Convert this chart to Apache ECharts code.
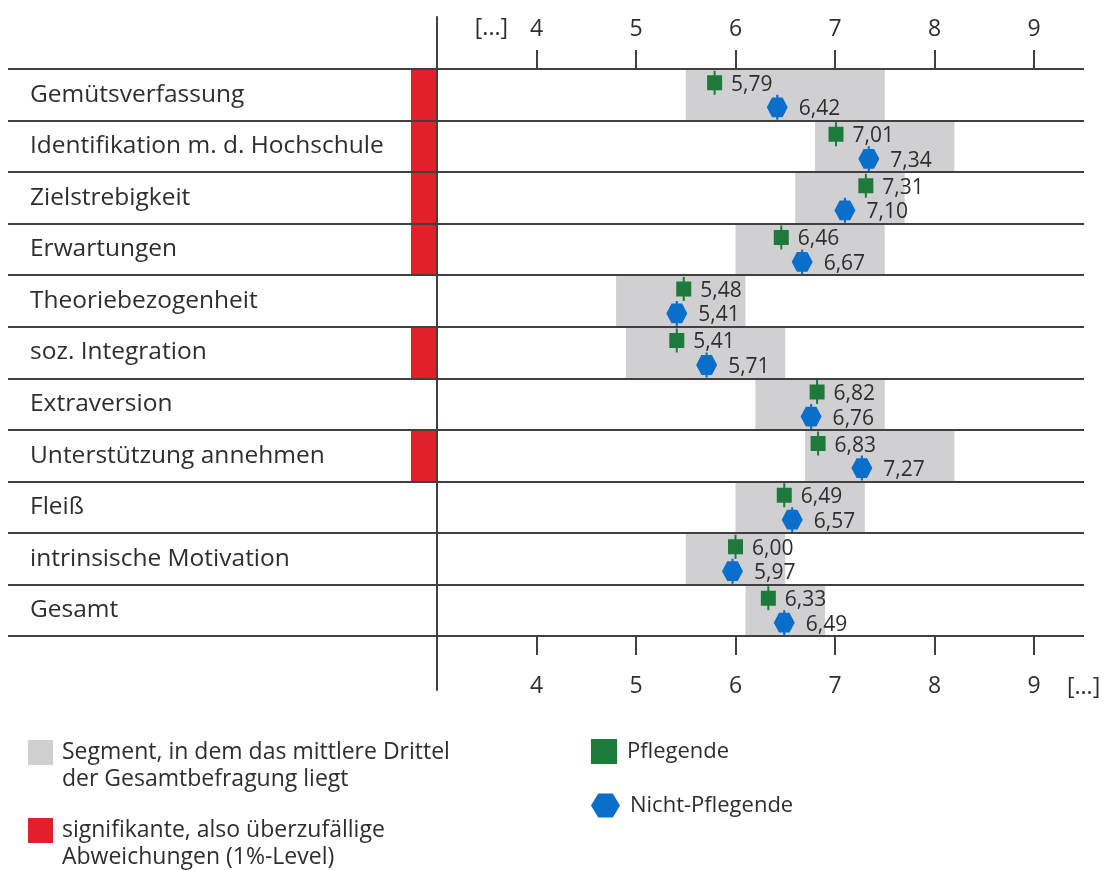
<!DOCTYPE html>
<html>
<head>
<meta charset="utf-8">
<script src="https://cdn.jsdelivr.net/npm/echarts@6/dist/echarts.min.js"></script>
<style>
html,body{margin:0;padding:0;background:#fff;}
#chart{width:1107px;height:870px;}
</style>
</head>
<body>
<div id="chart"></div>
<script>
const categories = ['Gemütsverfassung', 'Identifikation m. d. Hochschule', 'Zielstrebigkeit', 'Erwartungen', 'Theoriebezogenheit', 'soz. Integration', 'Extraversion', 'Unterstützung annehmen', 'Fleiß', 'intrinsische Motivation', 'Gesamt'];
const pflegende = [5.79, 7.01, 7.31, 6.46, 5.48, 5.41, 6.82, 6.83, 6.49, 6.00, 6.33];
const nichtPflegende = [6.42, 7.34, 7.10, 6.67, 5.41, 5.71, 6.76, 7.27, 6.57, 5.97, 6.49];
const segmentLow = [5.5, 6.8, 6.6, 6.0, 4.8, 4.9, 6.2, 6.7, 6.0, 5.5, 6.1];
const segmentHigh = [7.5, 8.2, 7.7, 7.5, 6.1, 6.5, 7.5, 8.2, 7.3, 6.5, 6.9];
const significant = [1, 1, 1, 1, 0, 1, 0, 1, 0, 0, 0];
const axisTicks = [4, 5, 6, 7, 8, 9];
const axisMin = 3, axisMax = 9;

const SEG_NAME = 'Segment, in dem das mittlere Drittel\nder Gesamtbefragung liegt';
const SIG_NAME = 'signifikante, also überzufällige\nAbweichungen (1%-Level)';
const P_NAME = 'Pflegende';
const NP_NAME = 'Nicht-Pflegende';

const FONT = '"Open Sans", "Noto Sans", sans-serif';
const TXT = '#2e2e2e';
const LINE = '#404040';
const GREEN = '#1e7a3a';
const BLUE = '#0a6fca';
const GRAY = '#d0d0d2';
const RED = '#e3202a';

const squareSym = 'path://M0,4.5L15,4.5L15,19.5L0,19.5Z M6.5,0L8.5,0L8.5,24L6.5,24Z';
const hexSym = 'path://M0,12L5,2.5L15,2.5L20,12L15,21.5L5,21.5Z M9,0L11,0L11,24L9,24Z';
const hexIcon = 'path://M0,10L6,0L18,0L24,10L18,20L6,20Z';

const fmt = v => v.toFixed(2).replace('.', ',');

const chart = echarts.init(document.getElementById('chart'), null, {renderer: 'canvas'});

const gridTop = 69, gridBottom = 870 - 636;

const baseText = {fontFamily: FONT, color: TXT};

const option = {
  backgroundColor: '#fff',
  animation: false,
  textStyle: {fontFamily: FONT},
  grid: [
    {left: 8, right: 23, top: gridTop, bottom: gridBottom},
    {left: 437, right: 1107 - 1034, top: gridTop, bottom: gridBottom},
    {left: 437, right: 600, top: 17, bottom: 870 - 690}
  ],
  xAxis: [
    {gridIndex: 0, type: 'value', min: 0, max: 1, show: false},
    {
      gridIndex: 1, type: 'value', position: 'top', min: axisMin, max: axisMax, interval: 1,
      axisLine: {show: false},
      axisTick: {show: true, length: 19, lineStyle: {color: LINE, width: 2}},
      splitLine: {show: false},
      axisLabel: {
        margin: 28, fontSize: 23, lineHeight: 24, ...baseText,
        formatter: v => axisTicks.indexOf(v) >= 0 ? String(v) : ''
      },
      name: '[...]\n\n\n', nameLocation: 'start', nameGap: -71,
      nameTextStyle: {fontSize: 23, lineHeight: 27, ...baseText}
    },
    {
      gridIndex: 1, type: 'value', position: 'bottom', min: axisMin, max: axisMax, interval: 1,
      axisLine: {show: false},
      axisTick: {show: true, length: 19, lineStyle: {color: LINE, width: 2}},
      splitLine: {show: false},
      axisLabel: {
        margin: 38, fontSize: 23, lineHeight: 24, ...baseText,
        formatter: v => axisTicks.indexOf(v) >= 0 ? String(v) : ''
      },
      name: '\n\n\n\n[...]', nameLocation: 'end', nameGap: 33,
      nameTextStyle: {fontSize: 23, lineHeight: 25.5, ...baseText}
    },
    {gridIndex: 2, type: 'value', show: false}
  ],
  yAxis: [
    {
      gridIndex: 0, type: 'category', inverse: true, data: categories, z: 5,
      axisLine: {show: false}, axisTick: {show: false},
      splitLine: {show: true, lineStyle: {color: LINE, width: 2}},
      axisLabel: {inside: true, margin: 22, fontSize: 24.5, ...baseText, padding: [3, 0, 0, 0]}
    },
    {
      gridIndex: 1, type: 'category', inverse: true, data: categories, show: false
    },
    {
      gridIndex: 2, type: 'value', z: 6,
      axisLine: {show: true, lineStyle: {color: LINE, width: 2}},
      axisTick: {show: false}, axisLabel: {show: false}, splitLine: {show: false}
    }
  ],
  legend: [
    {
      data: [{name: SEG_NAME, icon: 'rect'}], left: 28, top: 712, padding: 0,
      itemWidth: 25, itemHeight: 25, selectedMode: false,
      formatter: n => '\n' + n,
      textStyle: {fontSize: 23, lineHeight: 27, ...baseText, padding: [0, 0, 0, 4]}
    },
    {
      data: [{name: SIG_NAME, icon: 'rect'}], left: 28, top: 790, padding: 0,
      itemWidth: 25, itemHeight: 25, selectedMode: false,
      formatter: n => '\n' + n,
      textStyle: {fontSize: 23, lineHeight: 27, ...baseText, padding: [0, 0, 0, 4]}
    },
    {
      data: [{name: P_NAME, icon: 'rect'}], left: 591, top: 738, padding: 0,
      itemWidth: 26, itemHeight: 25, selectedMode: false,
      itemStyle: {opacity: 1},
      textStyle: {fontSize: 22, lineHeight: 27, ...baseText, padding: [0, 0, 0, 5]}
    },
    {
      data: [{name: NP_NAME, icon: hexIcon}], left: 591, top: 792, padding: 0,
      itemWidth: 29, itemHeight: 25, selectedMode: false,
      itemStyle: {opacity: 1},
      textStyle: {fontSize: 22, lineHeight: 27, ...baseText, padding: [0, 0, 0, 5]}
    }
  ],
  series: [
    {
      name: SEG_NAME, type: 'custom', xAxisIndex: 1, yAxisIndex: 1, z: 1,
      itemStyle: {color: GRAY},
      encode: {x: [0, 1], y: 2},
      data: segmentLow.map((lo, i) => [lo, segmentHigh[i], i]),
      renderItem: (params, api) => {
        const a = api.coord([api.value(0), api.value(2)]);
        const b = api.coord([api.value(1), api.value(2)]);
        const h = api.size([0, 1])[1];
        return {type: 'rect', shape: {x: a[0], y: a[1] - h / 2, width: b[0] - a[0], height: h},
          style: {fill: GRAY}};
      }
    },
    {
      name: SIG_NAME, type: 'custom', xAxisIndex: 1, yAxisIndex: 1, z: 1, clip: false,
      itemStyle: {color: RED},
      encode: {x: 0, y: 1},
      data: significant.map((s, i) => s ? [axisMin, i] : null).filter(d => d),
      renderItem: (params, api) => {
        const p = api.coord([api.value(0), api.value(1)]);
        const h = api.size([0, 1])[1];
        return {type: 'rect', shape: {x: p[0] - 26, y: p[1] - h / 2, width: 25, height: h},
          style: {fill: RED}};
      }
    },
    {
      name: P_NAME, type: 'scatter', xAxisIndex: 1, yAxisIndex: 1, z: 10,
      symbol: squareSym, symbolSize: [15, 24], symbolOffset: [0, -12],
      itemStyle: {color: GREEN, opacity: 1},
      label: {show: true, position: 'right', distance: 9, fontSize: 21, offset: [0, 2], ...baseText,
        formatter: p => fmt(p.value[0])},
      data: pflegende.map((v, i) => [v, i])
    },
    {
      name: NP_NAME, type: 'scatter', xAxisIndex: 1, yAxisIndex: 1, z: 10,
      symbol: hexSym, symbolSize: [21, 25], symbolOffset: [0, 12.5],
      itemStyle: {color: BLUE, opacity: 1},
      label: {show: true, position: 'right', distance: 11, fontSize: 21, offset: [0, 2], ...baseText,
        formatter: p => fmt(p.value[0])},
      data: nichtPflegende.map((v, i) => [v, i])
    }
  ]
};

chart.setOption(option);
</script>
</body>
</html>
